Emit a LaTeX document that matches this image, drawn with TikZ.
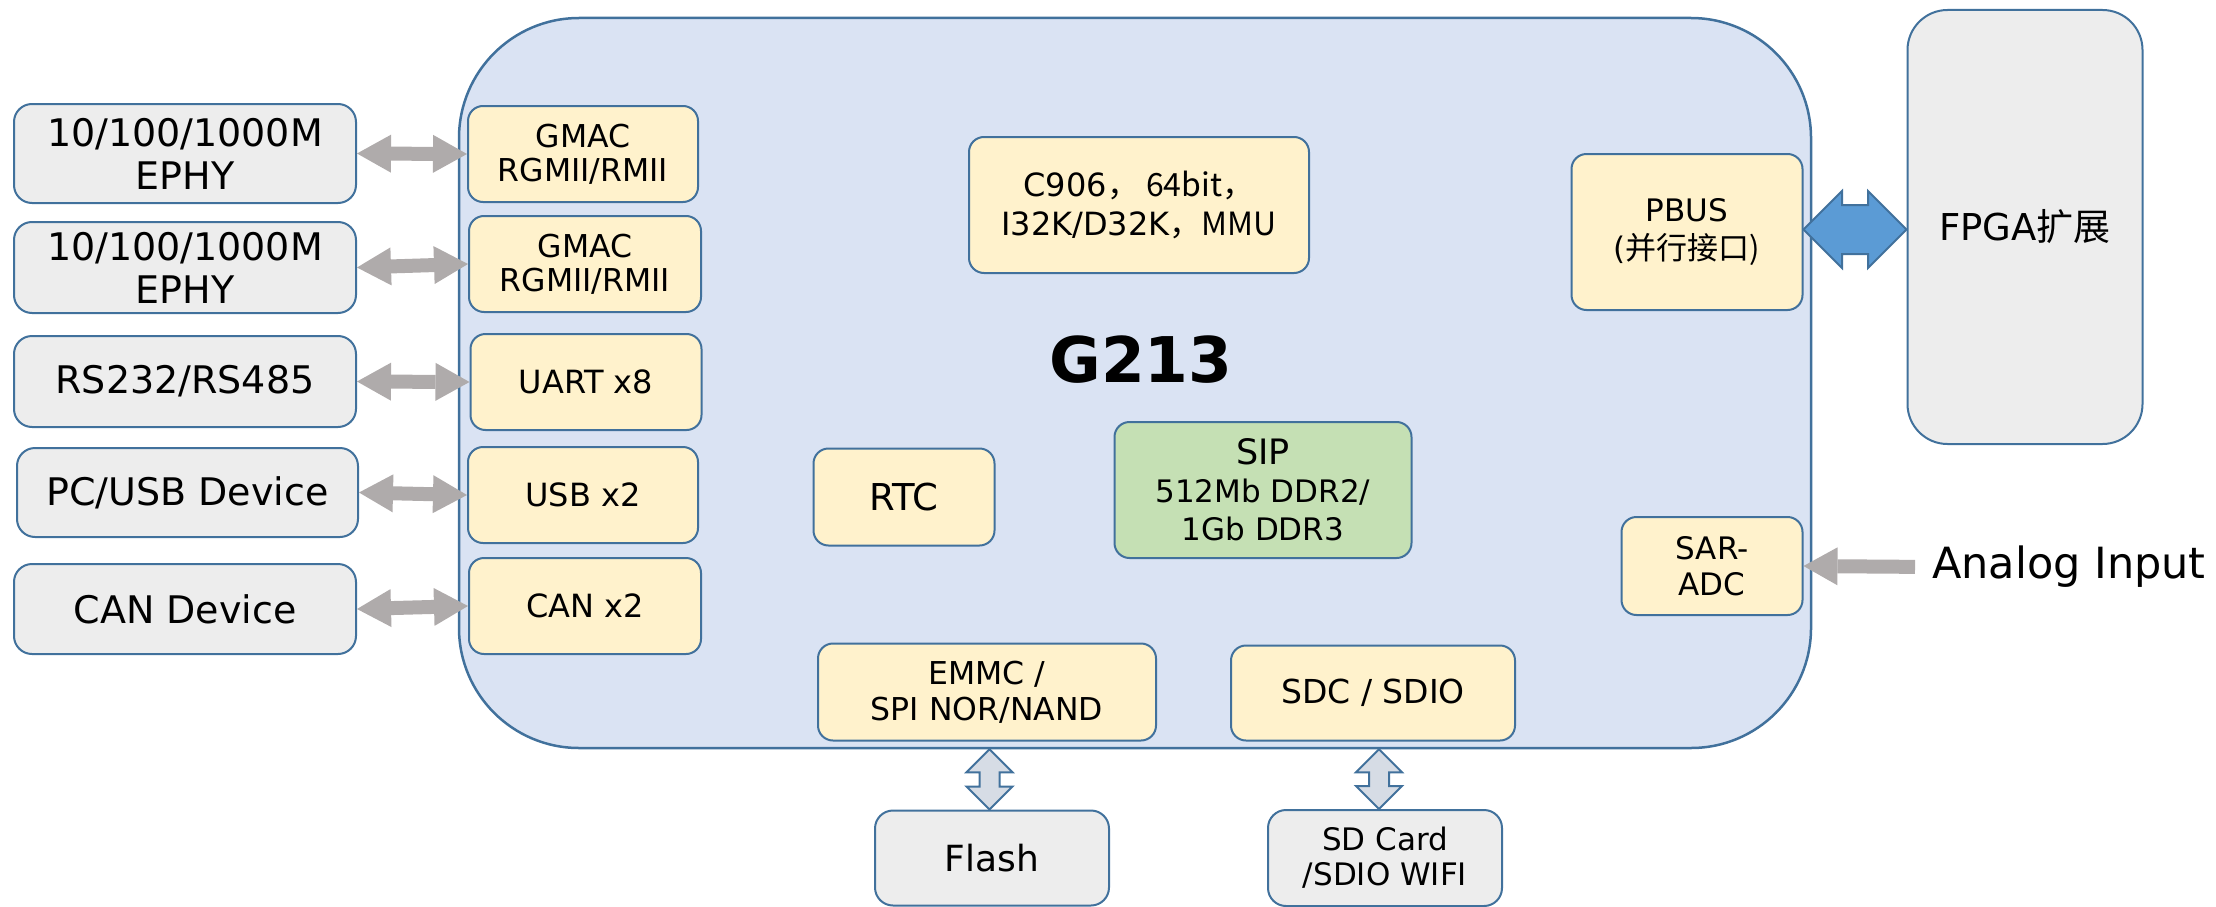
\documentclass[tikz,border=0pt]{standalone}
\usepackage{fontspec}
\setmainfont{DejaVu Sans}
\newfontfamily\cjk{Noto Sans CJK SC}
\usetikzlibrary{arrows.meta,shapes.arrows,calc}

\definecolor{linec}{HTML}{41719C}
\definecolor{chipfill}{HTML}{DAE3F3}
\definecolor{ipyellow}{HTML}{FFF2CC}
\definecolor{sipgreen}{HTML}{C5E0B4}
\definecolor{boxgray}{HTML}{EDEDED}
\definecolor{arrowgray}{HTML}{AFABAB}
\definecolor{pbusblue}{HTML}{5B9BD5}
\definecolor{stackfill}{HTML}{D6DCE5}

\tikzset{
  boxsize/.style 2 args={minimum width=#1, minimum height=#2},
  chipbox/.style={draw=linec, line width=2.5pt, fill=chipfill, rounded corners=120pt},
  outbox/.style={draw=linec, line width=2pt, fill=boxgray, rounded corners=18pt,
    align=center, inner sep=0pt, font=\fontsize{38pt}{43pt}\selectfont},
  ipbox/.style={draw=linec, line width=2pt, fill=ipyellow, rounded corners=15pt,
    align=center, inner sep=0pt, font=\fontsize{32pt}{38pt}\selectfont},
  linkarrow/.style={draw=arrowgray, line width=14pt,
    >={Triangle[length=34pt,width=38pt,line width=0pt]}},
  busarrow/.style={double arrow, draw=linec, line width=2pt, fill=pbusblue,
    inner xsep=0pt, inner ysep=23.5pt, double arrow head extend=14pt},
  stackarrow/.style={double arrow, draw=linec, line width=2pt, fill=stackfill,
    inner xsep=0pt, inner ysep=9pt, double arrow head extend=13pt, rotate=90},
}

\begin{document}
\begin{tikzpicture}[x=1pt,y=-1pt]
  \useasboundingbox (0,0) rectangle (2216,907);

  \node[chipbox, boxsize={1352pt}{730pt}] (chip) at (1135,383) {};
  \node[font=\bfseries\fontsize{63pt}{63pt}\selectfont] (chipname) at (1141,360) {G213};

  % blocks inside the chip
  \node[ipbox, boxsize={230pt}{96pt}, font=\fontsize{31.5pt}{34pt}\selectfont] (gmacA) at (583,154) {GMAC\\RGMII/RMII};
  \node[ipbox, boxsize={232pt}{96pt}, font=\fontsize{31.5pt}{34pt}\selectfont] (gmacB) at (585,264) {GMAC\\RGMII/RMII};
  \node[ipbox, boxsize={231pt}{96pt}] (uart) at (586,382) {UART x8};
  \node[ipbox, boxsize={230pt}{96pt}] (usb) at (583,495) {USB x2};
  \node[ipbox, boxsize={232pt}{96pt}] (can) at (585,606) {CAN x2};
  \node[ipbox, boxsize={340pt}{136pt}, font=\fontsize{32pt}{39pt}\selectfont] (cpu) at (1139,205) {C906\cjk{，} 64bit\cjk{，}\\I32K/D32K\cjk{，}MMU};
  \node[ipbox, boxsize={181pt}{97pt}, font=\fontsize{37pt}{40pt}\selectfont] (rtc) at (904,497) {RTC};
  \node[ipbox, fill=sipgreen, boxsize={297pt}{136pt}, font=\fontsize{31pt}{38pt}\selectfont] (sip) at (1263,490)
    {{\fontsize{35pt}{38pt}\selectfont SIP}\\512Mb DDR2/\\1Gb DDR3};
  \node[ipbox, boxsize={231pt}{156pt}, font=\fontsize{31pt}{38pt}\selectfont] (pbus) at (1687,232) {PBUS\\(\cjk{并行接口})};
  \node[ipbox, boxsize={181pt}{98pt}, font=\fontsize{31pt}{36pt}\selectfont] (sar) at (1712,566) {SAR-\\ADC};
  \node[ipbox, boxsize={338pt}{97pt}, font=\fontsize{31.5pt}{36pt}\selectfont] (emmc) at (987,692) {EMMC /\\SPI NOR/NAND};
  \node[ipbox, boxsize={284pt}{95pt}, font=\fontsize{33pt}{38pt}\selectfont] (sdc) at (1373,693) {SDC / SDIO};

  % outside devices
  \node[outbox, boxsize={342pt}{99pt}] (ephyA) at (185,153.5) {10/100/1000M\\EPHY};
  \node[outbox, boxsize={342pt}{91pt}] (ephyB) at (185,267.5) {10/100/1000M\\EPHY};
  \node[outbox, boxsize={342pt}{91pt}] (serial) at (185,381.5) {RS232/RS485};
  \node[outbox, boxsize={341pt}{89pt}] (usbdev) at (187.5,492.5) {PC/USB Device};
  \node[outbox, boxsize={342pt}{90pt}] (candev) at (185,609) {CAN Device};
  \node[outbox, boxsize={234pt}{95pt}, font=\fontsize{36pt}{40pt}\selectfont] (flash) at (992,858) {Flash};
  \node[outbox, boxsize={234pt}{96pt}, font=\fontsize{31pt}{35pt}\selectfont] (sdcard) at (1385,858) {SD Card\\/SDIO WIFI};
  \node[outbox, boxsize={235pt}{434pt}, rounded corners=40pt, font=\fontsize{37pt}{40pt}\selectfont] (fpga) at (2025,227) {FPGA\cjk{扩展}};
  \node[anchor=west, inner sep=0pt, font=\fontsize{43pt}{43pt}\selectfont] (analog) at (1932,567) {Analog Input};

  \draw[linkarrow, <->] (ephyA.east) -- (gmacA.west);
  \draw[linkarrow, <->] (ephyB.east) -- (gmacB.west);
  \draw[linkarrow, <->] (serial.east) -- (uart.west);
  \draw[linkarrow, <->] (usbdev.east) -- (usb.west);
  \draw[linkarrow, <->] (candev.east) -- (can.west);
  \draw[linkarrow, ->, shorten <=17pt] (analog.west) -- (sar.east);

  \path let \p1=(pbus.east), \p2=(fpga.west) in
    node[busarrow, minimum height=\x2-\x1] (pbuslink) at ($(\p1)!.5!(\p2)$) {};
  \path let \p1=(emmc.south), \p2=(flash.north), \p3=(chip.south) in
    node[stackarrow, minimum height=\y3-\y2] (flashlink) at ({(\x1+\x2)/2},{(\y3+\y2)/2}) {};
  \path let \p1=(sdc.south), \p2=(sdcard.north), \p3=(chip.south) in
    node[stackarrow, minimum height=\y3-\y2] (sdlink) at ({(\x1+\x2)/2},{(\y3+\y2)/2}) {};
\end{tikzpicture}
\end{document}
